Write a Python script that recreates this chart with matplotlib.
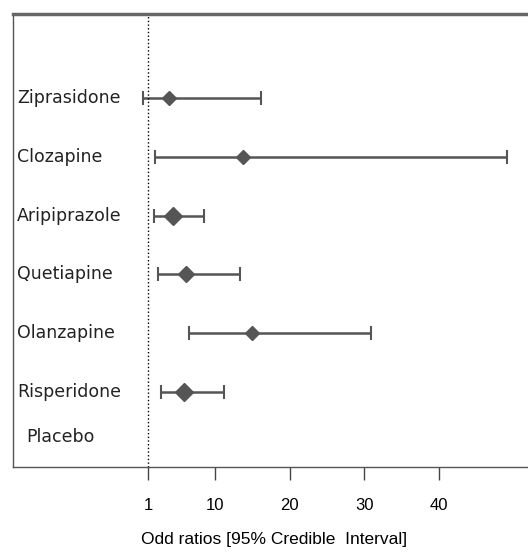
import matplotlib.pyplot as plt
import numpy as np

# data (odds ratios, 95% credible interval) - bottom to top
drugs = ['Placebo', 'Risperidone', 'Olanzapine', 'Quetiapine', 'Aripiprazole', 'Clozapine', 'Ziprasidone']
odds = [np.nan, 5.9, 15.0, 6.1, 4.3, 13.8, 3.8]
lower = [np.nan, 2.8, 6.5, 2.4, 1.8, 1.9, 0.3]
upper = [np.nan, 11.2, 30.9, 13.4, 8.5, 49.2, 16.1]
marker_sizes = [0, 9.5, 7, 8.5, 9.5, 7, 7.5]
xticks = [1, 10, 20, 30, 40]

plt.rcParams['font.family'] = ['Liberation Sans', 'DejaVu Sans']

fig = plt.figure(figsize=(5.28, 5.56), dpi=100)
ax = fig.add_axes([0.0246, 0.160, 0.99, 0.815])

gray = '#555555'
y = np.arange(len(drugs))

for yi, o, lo, hi, ms in zip(y, odds, lower, upper, marker_sizes):
    if np.isnan(o):
        continue
    ax.errorbar([o], [yi], xerr=[[o - lo], [hi - o]], fmt='none', ecolor=gray,
                elinewidth=1.8, capsize=5, capthick=1.5)
    ax.plot([o], [yi], marker='D', color=gray, markersize=ms, linestyle='none')

# reference line at OR = 1
ax.axvline(1, color='black', linestyle=':', linewidth=1)

# drug labels inside the frame
for yi, name in zip(y, drugs):
    if name == 'Placebo':
        ax.annotate(name, xy=(0.026, yi), xycoords=('axes fraction', 'data'),
                    xytext=(0, 10), textcoords='offset points',
                    ha='left', va='center', fontsize=12.5, color='#222222',
                    family='DejaVu Sans')
    else:
        ax.text(0.008, yi, name, transform=ax.get_yaxis_transform(), ha='left',
                va='center', fontsize=12.5, color='#222222', family='DejaVu Sans')

ax.set_xlim(-17.1, 53.0)
ax.set_ylim(-0.276, 7.43)
ax.set_yticks([])
ax.set_xticks(xticks)
ax.set_xticklabels([str(v) for v in xticks], fontsize=12)
ax.tick_params(axis='x', direction='out', length=9, width=1, color='#444444', pad=13)
ax.set_xlabel('Odd ratios [95% Credible  Interval]', fontsize=12.5, labelpad=14)

for s in ['left', 'bottom']:
    ax.spines[s].set_color('#555555')
    ax.spines[s].set_linewidth(1)
ax.spines['top'].set_color('#666666')
ax.spines['top'].set_linewidth(2.5)
ax.spines['right'].set_visible(False)

fig.savefig('out.png', dpi=100)
